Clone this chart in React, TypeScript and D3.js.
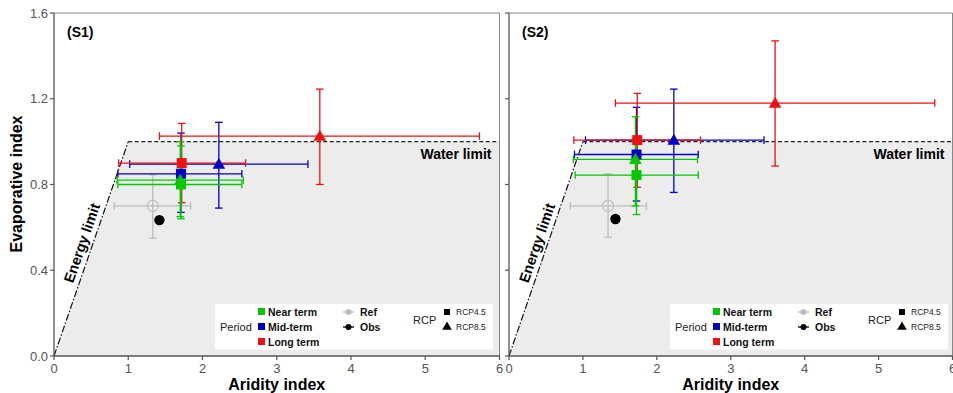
import React from "react";
import * as d3 from "d3";

// ---------- data ----------
const periods = ["Near term", "Mid-term", "Long term"];
const periodColors = ["#00c800", "#0000cc", "#ee1111"];
const rcps = ["RCP4.5", "RCP8.5"];
const panelLabels = ["(S1)", "(S2)"];
const xTicks = [0, 1, 2, 3, 4, 5, 6];
const yTicks = [0, 0.4, 0.8, 1.2, 1.6];

// order: Near45, Near85, Mid45, Mid85, Long45, Long85
const seriesPeriod = [0, 0, 1, 1, 2, 2];
const seriesRcp = [0, 1, 0, 1, 0, 1];

const s1X = [1.71, 1.70, 1.71, 2.22, 1.72, 3.58];
const s1Y = [0.80, 0.82, 0.85, 0.895, 0.90, 1.026];
const s1XLo = [0.86, 0.85, 0.86, 1.02, 0.87, 1.42];
const s1XHi = [2.53, 2.55, 2.53, 3.42, 2.58, 5.73];
const s1YLo = [0.64, 0.65, 0.67, 0.69, 0.715, 0.80];
const s1YHi = [0.98, 1.0, 1.04, 1.09, 1.085, 1.245];

const s2X = [1.725, 1.71, 1.725, 2.23, 1.735, 3.60];
const s2Y = [0.844, 0.917, 0.94, 1.007, 1.007, 1.18];
const s2XLo = [0.895, 0.87, 0.886, 1.035, 0.877, 1.44];
const s2XHi = [2.56, 2.55, 2.56, 3.45, 2.59, 5.76];
const s2YLo = [0.66, 0.70, 0.723, 0.763, 0.787, 0.886];
const s2YHi = [1.0, 1.116, 1.16, 1.245, 1.225, 1.47];

const refX = [1.33, 1.34];
const refY = [0.70, 0.70];
const refXLo = [0.81, 0.83];
const refXHi = [1.84, 1.86];
const refYLo = [0.55, 0.554];
const refYHi = [0.845, 0.85];
const obsX = [1.42, 1.44];
const obsY = [0.634, 0.639];

const limitX = [0, 1, 6];
const limitY = [0, 1, 1];

// ---------- layout ----------
const W = 953;
const H = 393;
const TOP = 13;
const BOTTOM = 356;
const panelX = [
  [54, 499.5],
  [509, 952.5],
];
const FONT = "'Liberation Sans', Arial, sans-serif";
const CAP = 3.8;

const sqPath = d3.symbol(d3.symbolSquare, 100)() as string;
const triPath = d3.symbol(d3.symbolTriangle, 70)() as string;
const sqLeg = d3.symbol(d3.symbolSquare, 36)() as string;
const triLeg = d3.symbol(d3.symbolTriangle, 40)() as string;

function Panel({ idx }: { idx: number }) {
  const [x0, x1] = panelX[idx];
  const x = d3.scaleLinear().domain([0, 6]).range([x0, x1]);
  const y = d3.scaleLinear().domain([0, 1.6]).range([BOTTOM, TOP]);
  const X = idx === 0 ? s1X : s2X;
  const Y = idx === 0 ? s1Y : s2Y;
  const XLo = idx === 0 ? s1XLo : s2XLo;
  const XHi = idx === 0 ? s1XHi : s2XHi;
  const YLo = idx === 0 ? s1YLo : s2YLo;
  const YHi = idx === 0 ? s1YHi : s2YHi;

  const area = d3
    .area<number>()
    .x((_, i) => x(limitX[i]))
    .y0(() => y(0))
    .y1((_, i) => y(limitY[i]));
  const energy = d3.line<number>().x((_, i) => x(limitX[i])).y((_, i) => y(limitY[i]));

  const eb = (cx: number, cy: number, xl: number, xh: number, yl: number, yh: number, color: string, key: string, w = 1.3) => (
    <g key={key} stroke={color} strokeWidth={w} fill="none">
      <line x1={x(xl)} x2={x(xh)} y1={y(cy)} y2={y(cy)} />
      <line x1={x(xl)} x2={x(xl)} y1={y(cy) - CAP} y2={y(cy) + CAP} />
      <line x1={x(xh)} x2={x(xh)} y1={y(cy) - CAP} y2={y(cy) + CAP} />
      <line x1={x(cx)} x2={x(cx)} y1={y(yl)} y2={y(yh)} />
      <line x1={x(cx) - CAP} x2={x(cx) + CAP} y1={y(yl)} y2={y(yl)} />
      <line x1={x(cx) - CAP} x2={x(cx) + CAP} y1={y(yh)} y2={y(yh)} />
    </g>
  );

  const order = [2, 3, 4, 5, 0, 1];
  const markOrder = [2, 3, 0, 1, 4, 5];

  // energy limit label geometry
  const ang = (Math.atan2(y(1) - y(0), x(1) - x(0)) * 180) / Math.PI;
  const ex = x(0) + 32.7;
  const ey = 244.6;

  const lx = x0 + 161; // legend left
  const ly = 304;

  return (
    <g>
      <path d={area([0, 0, 0]) as string} fill="#ececec" />
      <path d={energy([0, 0]) as string} stroke="#111" strokeWidth={1.2} strokeDasharray="7,2,1.5,2" fill="none" />
      <line x1={x(1)} x2={x(6)} y1={y(1)} y2={y(1)} stroke="#222" strokeWidth={1.4} strokeDasharray="4,2.5" />
      <text
        x={ex}
        y={ey}
        transform={`rotate(${ang} ${ex} ${ey})`}
        textAnchor="middle"
        fontFamily={FONT}
        fontWeight="bold"
        fontSize={14.5}
        fill="#000"
      >
        Energy limit
      </text>
      <text x={x(6) - 8} y={y(1) + 17} textAnchor="end" fontFamily={FONT} fontWeight="bold" fontSize={14}>
        Water limit
      </text>
      <text x={x0 + 13} y={TOP + 24} fontFamily={FONT} fontWeight="bold" fontSize={14}>
        {panelLabels[idx]}
      </text>

      {/* frame */}
      <line x1={x0} x2={x1} y1={TOP} y2={TOP} stroke="#888" strokeWidth={1} />
      <line x1={x1} x2={x1} y1={TOP} y2={BOTTOM} stroke="#888" strokeWidth={1} />
      <line x1={x0} x2={x0} y1={TOP} y2={BOTTOM} stroke="#555" strokeWidth={1.3} />
      <line x1={x0} x2={x1} y1={BOTTOM} y2={BOTTOM} stroke="#555" strokeWidth={1.3} />

      {yTicks.map((t) => (
        <g key={"y" + t}>
          <line x1={x0 - 4} x2={x0} y1={y(t)} y2={y(t)} stroke="#555" strokeWidth={1.2} />
          {idx === 0 && (
            <text x={x0 - 6} y={y(t) + 4.5} textAnchor="end" fontFamily={FONT} fontSize={13} fill="#555">
              {d3.format(".1f")(t)}
            </text>
          )}
        </g>
      ))}
      {xTicks.map((t) => (
        <g key={"x" + t}>
          <line x1={x(t)} x2={x(t)} y1={BOTTOM} y2={BOTTOM + 4} stroke="#555" strokeWidth={1.2} />
          <text x={x(t)} y={BOTTOM + 17} textAnchor="middle" fontFamily={FONT} fontSize={13} fill="#555">
            {t}
          </text>
        </g>
      ))}
      <text x={(x0 + x1) / 2} y={390} textAnchor="middle" fontFamily={FONT} fontWeight="bold" fontSize={16}>
        Aridity index
      </text>

      {/* ref & obs */}
      {eb(refX[idx], refY[idx], refXLo[idx], refXHi[idx], refYLo[idx], refYHi[idx], "#bdbdbd", "ref", 1.3)}
      <circle cx={x(refX[idx])} cy={y(refY[idx])} r={5.5} fill="none" stroke="#bdbdbd" strokeWidth={1.2} />
      <circle cx={x(obsX[idx])} cy={y(obsY[idx])} r={5.2} fill="#000" />

      {order.map((i) => eb(X[i], Y[i], XLo[i], XHi[i], YLo[i], YHi[i], periodColors[seriesPeriod[i]], "e" + i))}
      {markOrder.map((i) => (
        <path
          key={"m" + i}
          d={seriesRcp[i] === 0 ? sqPath : triPath}
          transform={`translate(${x(X[i])},${y(Y[i]) + (seriesRcp[i] === 1 ? 1 : 0)})`}
          fill={periodColors[seriesPeriod[i]]}
        />
      ))}

      {/* legend */}
      <rect x={lx} y={ly} width={278} height={45.5} fill="#fff" />
      <text x={lx + 5} y={ly + 27} fontFamily={FONT} fontSize={11} fill="#222">
        Period
      </text>
      {periods.map((p, i) => (
        <g key={p}>
          <rect x={lx + 43} y={ly + 4 + i * 15} width={7} height={7} fill={periodColors[i]} />
          <text x={lx + 53} y={ly + 11.5 + i * 15} fontFamily={FONT} fontWeight="bold" fontSize={10.5} fill="#111">
            {p}
          </text>
        </g>
      ))}
      {["Ref", "Obs"].map((p, i) => (
        <g key={p}>
          <line x1={lx + 128} x2={lx + 139} y1={ly + 8 + i * 15} y2={ly + 8 + i * 15} stroke={i === 0 ? "#bdbdbd" : "#000"} strokeWidth={1.3} />
          <circle cx={lx + 133.5} cy={ly + 8 + i * 15} r={3} fill={i === 0 ? "#bdbdbd" : "#000"} />
          <text x={lx + 145} y={ly + 11.5 + i * 15} fontFamily={FONT} fontWeight="bold" fontSize={10.5} fill="#111">
            {p}
          </text>
        </g>
      ))}
      <text x={lx + 198} y={ly + 20} fontFamily={FONT} fontSize={11} fill="#222">
        RCP
      </text>
      {rcps.map((r, i) => (
        <g key={r}>
          <path d={i === 0 ? sqLeg : triLeg} transform={`translate(${lx + 232},${ly + 8 + i * 15})`} fill="#000" />
          <text x={lx + 241} y={ly + 11 + i * 15} fontFamily={FONT} fontSize={8.5} fill="#222">
            {r}
          </text>
        </g>
      ))}
    </g>
  );
}

export default function App() {
  return (
    <svg
      width={W}
      height={H}
      viewBox={`0 0 ${W} ${H}`}
      style={{ position: "absolute", left: 0, top: 0, background: "#fff" }}
    >
      <rect width={W} height={H} fill="#fff" />
      <Panel idx={0} />
      <Panel idx={1} />
      <text
        transform={`translate(22,184) rotate(-90)`}
        textAnchor="middle"
        fontFamily={FONT}
        fontWeight="bold"
        fontSize={16}
      >
        Evaporative index
      </text>
    </svg>
  );
}
